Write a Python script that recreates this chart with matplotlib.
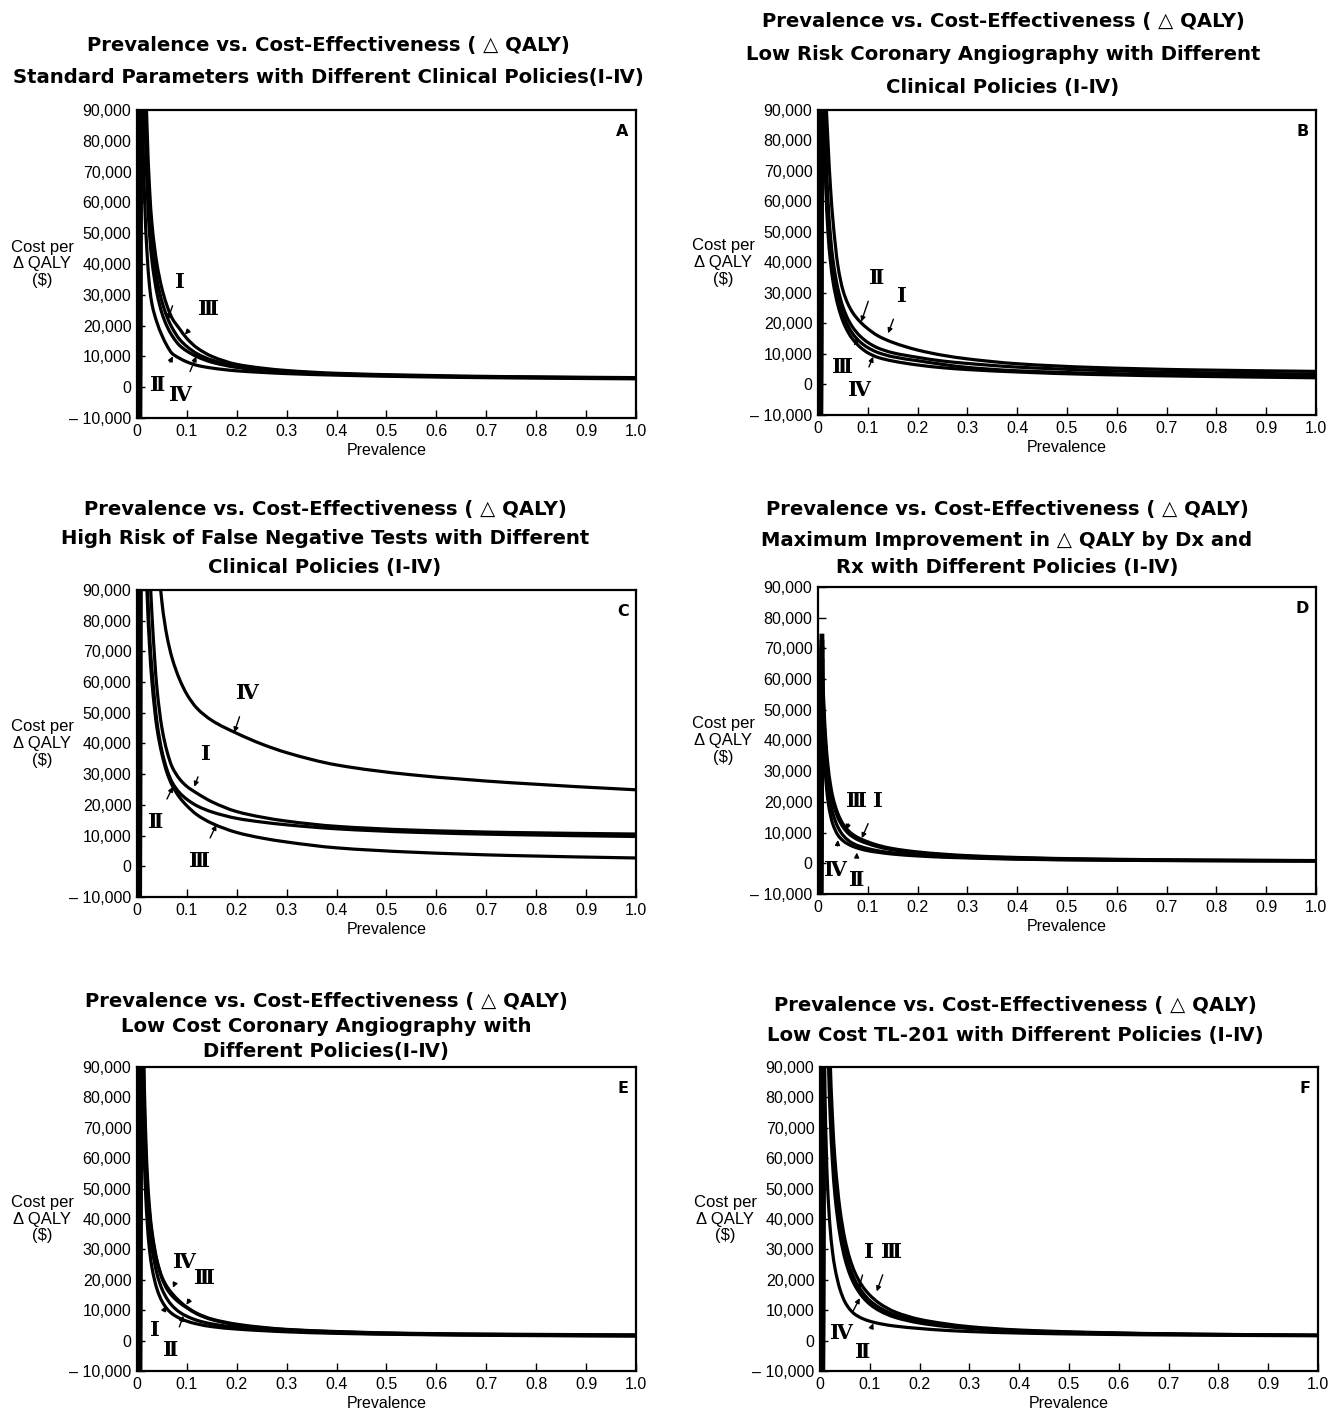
import matplotlib
matplotlib.use("Agg")
import matplotlib.pyplot as plt
from matplotlib.path import Path
from matplotlib.patches import PathPatch
from matplotlib.ticker import FixedLocator, FuncFormatter

# Prevalence grid shared by every curve
prevalence = [0.005, 0.008, 0.01, 0.015, 0.02, 0.025, 0.03, 0.04, 0.05, 0.06, 0.07,
              0.085, 0.1, 0.12, 0.15, 0.2, 0.25, 0.3, 0.4, 0.55, 0.75, 1.0]

policies = ["I", "II", "III", "IV"]

# A: standard parameters (cost per delta-QALY, $)
a_I = [-40000, 250000, 180000, 108000, 76000, 58000, 47000, 35000, 27800, 22900, 19400,
       15600, 13200, 10900, 8800, 6900, 5800, 5100, 4300, 3700, 3300, 3000]
a_II = [-40000, 150000, 100000, 62000, 44000, 33000, 27000, 21000, 16800, 13500, 11000,
        9400, 8200, 7100, 6200, 5300, 4800, 4400, 3900, 3400, 3000, 2700]
a_III = [-40000, 280000, 200000, 120000, 85000, 65000, 53000, 40000, 32000, 26500, 22500,
         19000, 15800, 12800, 10000, 7400, 6200, 5400, 4500, 3900, 3400, 3100]
a_IV = [-40000, 220000, 160000, 95000, 66000, 50000, 41000, 30500, 24000, 19800, 16800,
        13600, 11700, 9900, 8100, 6400, 5500, 4900, 4200, 3600, 3200, 2900]

# B: low risk coronary angiography
b_I = [-40000, 300000, 200000, 100000, 80000, 65000, 54000, 39000, 31000, 26500, 23500,
       20500, 18300, 16000, 13800, 11300, 9600, 8400, 6800, 5600, 4800, 4300]
b_II = [-40000, 170000, 120000, 82000, 61000, 49000, 41000, 31500, 25500, 21500, 18700,
        15800, 13800, 12000, 10400, 8900, 7700, 6900, 5700, 4700, 3900, 3400]
b_III = [-40000, 140000, 100000, 72000, 54000, 44000, 37000, 28500, 23000, 19300, 16600,
         13900, 12100, 10500, 9100, 7800, 6600, 5600, 4500, 3700, 3100, 2700]
b_IV = [-40000, 130000, 95000, 68000, 50000, 40500, 34000, 26000, 20800, 17300, 14800,
        12200, 10400, 8900, 7700, 6400, 5500, 4900, 4100, 3300, 2700, 2200]

# C: high risk of false negative tests
c_I = [-40000, 500000, 300000, 180000, 125000, 100000, 82000, 58000, 45000, 37500, 32500,
       28500, 26000, 23800, 21000, 17800, 16000, 14700, 13000, 11800, 11000, 10500]
c_II = [-40000, 400000, 250000, 140000, 96000, 76000, 64000, 47000, 37500, 31500, 27500,
        24000, 21800, 19700, 17700, 15600, 14400, 13500, 12200, 11100, 10300, 9700]
c_III = [-40000, 300000, 200000, 125000, 90000, 72000, 60000, 45000, 36500, 30500, 26500,
         22500, 19700, 16800, 14000, 11000, 9200, 7900, 6000, 4600, 3500, 2700]
c_IV = [-40000, 600000, 450000, 320000, 250000, 200000, 160000, 108000, 86000, 75000, 68000,
        61000, 56000, 51500, 47500, 43300, 39800, 37000, 33000, 29800, 27200, 24900]

# D: maximum improvement in delta-QALY by Dx and Rx
d_I = [-40000, 74000, 60000, 42000, 32000, 25800, 21500, 16200, 12900, 10800, 9400,
       8000, 7000, 5900, 4800, 3700, 3000, 2500, 1900, 1400, 1100, 900]
d_II = [-40000, 70000, 52000, 34000, 25000, 19800, 16200, 11800, 9200, 7600, 6500,
        5500, 4800, 4100, 3400, 2700, 2200, 1900, 1450, 1100, 900, 750]
d_III = [-40000, 72000, 57000, 39000, 29500, 23800, 19800, 14900, 11900, 9900, 8600,
         7300, 6400, 5400, 4400, 3400, 2800, 2300, 1750, 1300, 1000, 850]
d_IV = [-40000, 66000, 47000, 29000, 20500, 15800, 12700, 9200, 7400, 6300, 5500,
        4700, 4100, 3600, 3000, 2400, 2000, 1750, 1350, 1050, 850, 700]

# E: low cost coronary angiography
e_I = [-40000, 150000, 100000, 58000, 40000, 30000, 24000, 17000, 13000, 10500, 8900,
       7400, 6400, 5500, 4600, 3800, 3300, 2900, 2400, 2000, 1700, 1500]
e_II = [-40000, 180000, 120000, 70000, 49000, 37500, 30500, 22000, 17000, 13800, 11600,
        9400, 8000, 6700, 5500, 4400, 3700, 3200, 2600, 2100, 1800, 1600]
e_III = [-40000, 190000, 130000, 76000, 53000, 42000, 35000, 26000, 20500, 17000, 14800,
         12500, 10800, 8800, 6900, 5200, 4200, 3600, 2900, 2300, 2000, 1800]
e_IV = [-40000, 200000, 140000, 82000, 57000, 44000, 36000, 26500, 21000, 17800, 15600,
        13000, 11000, 9000, 7100, 5400, 4400, 3700, 3000, 2400, 2100, 1900]

# F: low cost TL-201
f_I = [-40000, 240000, 180000, 115000, 84000, 65000, 53000, 38500, 29800, 24000, 20000,
       16000, 13200, 10800, 8500, 6400, 5100, 4300, 3300, 2600, 2100, 1800]
f_II = [-40000, 110000, 82000, 52000, 38000, 29500, 24000, 17000, 12800, 10300, 8700,
        7300, 6400, 5600, 4800, 4000, 3400, 3000, 2500, 2100, 1800, 1600]
f_III = [-40000, 260000, 200000, 130000, 95000, 74000, 60000, 43500, 33500, 27000, 22500,
         18000, 15000, 12200, 9500, 7000, 5600, 4600, 3500, 2700, 2150, 1800]
f_IV = [-40000, 220000, 165000, 105000, 76000, 59000, 48000, 35000, 27000, 21800, 18200,
        14500, 12000, 9800, 7700, 5800, 4700, 4000, 3100, 2500, 2000, 1700]

y_ticks = [-10000, 0, 10000, 20000, 30000, 40000, 50000, 60000, 70000, 80000, 90000]
x_ticks = [0, 0.1, 0.2, 0.3, 0.4, 0.5, 0.6, 0.7, 0.8, 0.9, 1.0]

SANS = ["Liberation Sans", "DejaVu Sans"]
HEAVY = ["DejaVu Sans"]
SERIF = ["DejaVu Serif", "DejaVu Sans"]
ROMAN = {"I": "\u2160", "II": "\u2161", "III": "\u2162", "IV": "\u2163"}

panels = [
    dict(letter="A", curves=[a_I, a_II, a_III, a_IV],
         rect=[0.1030, 0.7042, 0.3752, 0.2180],
         title=["Prevalence vs. Cost-Effectiveness ( \u25b3 QALY)",
                "Standard Parameters with Different Clinical Policies(\u2160-\u2163)"],
         title_xy=(328, [46, 78]),
         labels=[("I", (0.087, 34000), (0.062, 22000)),
                 ("III", (0.143, 25300), (0.096, 17100)),
                 ("II", (0.042, 800), (0.072, 10000)),
                 ("IV", (0.087, -2400), (0.119, 10000))]),
    dict(letter="B", curves=[b_I, b_II, b_III, b_IV],
         rect=[0.6150, 0.7063, 0.3744, 0.2159],
         title=["Prevalence vs. Cost-Effectiveness ( \u25b3 QALY)",
                "Low Risk Coronary Angiography with Different",
                "Clinical Policies (\u2160-\u2163)"],
         title_xy=(1003, [22, 55, 87]),
         labels=[("II", (0.117, 34900), (0.087, 20600)),
                 ("I", (0.169, 29000), (0.141, 16800)),
                 ("III", (0.050, 5700), (0.081, 15500)),
                 ("IV", (0.083, -1800), (0.111, 9100))]),
    dict(letter="C", curves=[c_I, c_II, c_III, c_IV],
         rect=[0.1030, 0.3652, 0.3752, 0.2173],
         title=["Prevalence vs. Cost-Effectiveness ( \u25b3 QALY)",
                "High Risk of False Negative Tests with Different",
                "Clinical Policies (\u2160-\u2163)"],
         title_xy=(325, [510, 538, 568]),
         labels=[("IV", (0.221, 56300), (0.195, 43600)),
                 ("I", (0.139, 36700), (0.115, 25900)),
                 ("II", (0.038, 14500), (0.072, 25900)),
                 ("III", (0.125, 1800), (0.159, 13500))]),
    dict(letter="D", curves=[d_I, d_II, d_III, d_IV],
         rect=[0.6150, 0.3673, 0.3744, 0.2173],
         title=["Prevalence vs. Cost-Effectiveness ( \u25b3 QALY)",
                "Maximum Improvement in \u25b3 QALY by Dx and",
                "Rx with Different Policies (\u2160-\u2163)"],
         title_xy=(1007, [510, 540, 568]),
         labels=[("III", (0.077, 20400), (0.057, 10900)),
                 ("I", (0.121, 20400), (0.088, 8200)),
                 ("IV", (0.036, -2100), (0.040, 7600)),
                 ("II", (0.077, -5400), (0.078, 3500))]),
    dict(letter="E", curves=[e_I, e_II, e_III, e_IV],
         rect=[0.1030, 0.0297, 0.3752, 0.2151],
         title=["Prevalence vs. Cost-Effectiveness ( \u25b3 QALY)",
                "Low Cost Coronary Angiography with",
                "Different Policies(\u2160-\u2163)"],
         title_xy=(326, [1001, 1026, 1052]),
         labels=[("IV", (0.095, 26000), (0.072, 17400)),
                 ("III", (0.135, 20700), (0.099, 11800)),
                 ("I", (0.036, 3500), (0.058, 11400)),
                 ("II", (0.068, -3100), (0.093, 8200))]),
    dict(letter="F", curves=[f_I, f_II, f_III, f_IV],
         rect=[0.6165, 0.0297, 0.3744, 0.2151],
         title=["Prevalence vs. Cost-Effectiveness ( \u25b3 QALY)",
                "Low Cost TL-201 with Different Policies (\u2160-\u2163)"],
         title_xy=(1015, [1005, 1036]),
         labels=[("I", (0.099, 29300), (0.077, 16700)),
                 ("III", (0.143, 29300), (0.114, 16200)),
                 ("IV", (0.044, 2500), (0.080, 14000)),
                 ("II", (0.085, -3700), (0.107, 5700))]),
]

W, H = 1330, 1413
fig = plt.figure(figsize=(W / 100, H / 100), dpi=100)
fig.patch.set_facecolor("white")


def y_fmt(v, _pos):
    if v < 0:
        return "\u2013 {:,.0f}".format(abs(v))
    return "{:,.0f}".format(v)


def x_fmt(v, _pos):
    return "0" if v == 0 else "{:.1f}".format(v)


def smooth_path(xs, ys):
    """Straight jump out of the pole, then a shape-preserving cubic
    (monotone Hermite) through the remaining data points."""
    px, py = xs[1:], ys[1:]
    n = len(px)
    h = [px[k + 1] - px[k] for k in range(n - 1)]
    d = [(py[k + 1] - py[k]) / h[k] for k in range(n - 1)]
    m = [0.0] * n
    m[0], m[-1] = d[0], d[-1]
    for k in range(1, n - 1):
        if d[k - 1] * d[k] <= 0:
            m[k] = 0.0
        else:
            w1 = 2 * h[k] + h[k - 1]
            w2 = h[k] + 2 * h[k - 1]
            m[k] = (w1 + w2) / (w1 / d[k - 1] + w2 / d[k])
    verts = [(xs[0], ys[0]), (px[0], py[0])]
    codes = [Path.MOVETO, Path.LINETO]
    for k in range(n - 1):
        verts += [(px[k] + h[k] / 3, py[k] + m[k] * h[k] / 3),
                  (px[k + 1] - h[k] / 3, py[k + 1] - m[k + 1] * h[k] / 3),
                  (px[k + 1], py[k + 1])]
        codes += [Path.CURVE4] * 3
    return Path(verts, codes)


for panel in panels:
    ax = fig.add_axes(panel["rect"])
    for values in panel["curves"]:
        ax.add_patch(PathPatch(smooth_path(prevalence, values), fill=False,
                               edgecolor="black", lw=2.3, capstyle="butt"))
        # the jump through the pole shows as a heavy vertical stroke
        ax.plot(prevalence[:2], values[:2], color="black", lw=3.5)
    ax.set_xlim(0, 1.0)
    ax.set_ylim(-10000, 90000)
    ax.xaxis.set_major_locator(FixedLocator(x_ticks))
    ax.yaxis.set_major_locator(FixedLocator(y_ticks))
    ax.xaxis.set_major_formatter(FuncFormatter(x_fmt))
    ax.yaxis.set_major_formatter(FuncFormatter(y_fmt))
    ax.tick_params(direction="in", length=6, width=1.0, labelsize=11.5, pad=4,
                   top=False, right=False)
    for lab in ax.get_xticklabels() + ax.get_yticklabels():
        lab.set_family(SANS)
    for sp in ax.spines.values():
        sp.set_linewidth(1.6)
    ax.set_xlabel("Prevalence", fontsize=11.5, family=SANS, labelpad=3)
    ax.text(-0.19, 0.5, "Cost per\n\u0394 QALY\n($)", transform=ax.transAxes,
            ha="center", va="center", fontsize=12, family=SANS, linespacing=1.15)
    ax.text(0.985, 0.955, panel["letter"], transform=ax.transAxes, ha="right",
            va="top", fontsize=11.5, fontweight="bold", family=HEAVY)

    for name, text_xy, tip_xy in panel["labels"]:
        ax.annotate(ROMAN[name], xy=tip_xy, xytext=text_xy, ha="center", va="center",
                    fontsize=15, fontweight="bold", family=SERIF,
                    arrowprops=dict(arrowstyle="-|>", lw=1.0, color="black",
                                    mutation_scale=7, shrinkA=8, shrinkB=0))

    tx, tys = panel["title_xy"]
    for line, ty in zip(panel["title"], tys):
        fig.text(tx / W, 1 - ty / H, line, ha="center", va="center", fontsize=14.1,
                 fontweight="bold", family=HEAVY)

fig.savefig("out.png", dpi=100, facecolor="white")
